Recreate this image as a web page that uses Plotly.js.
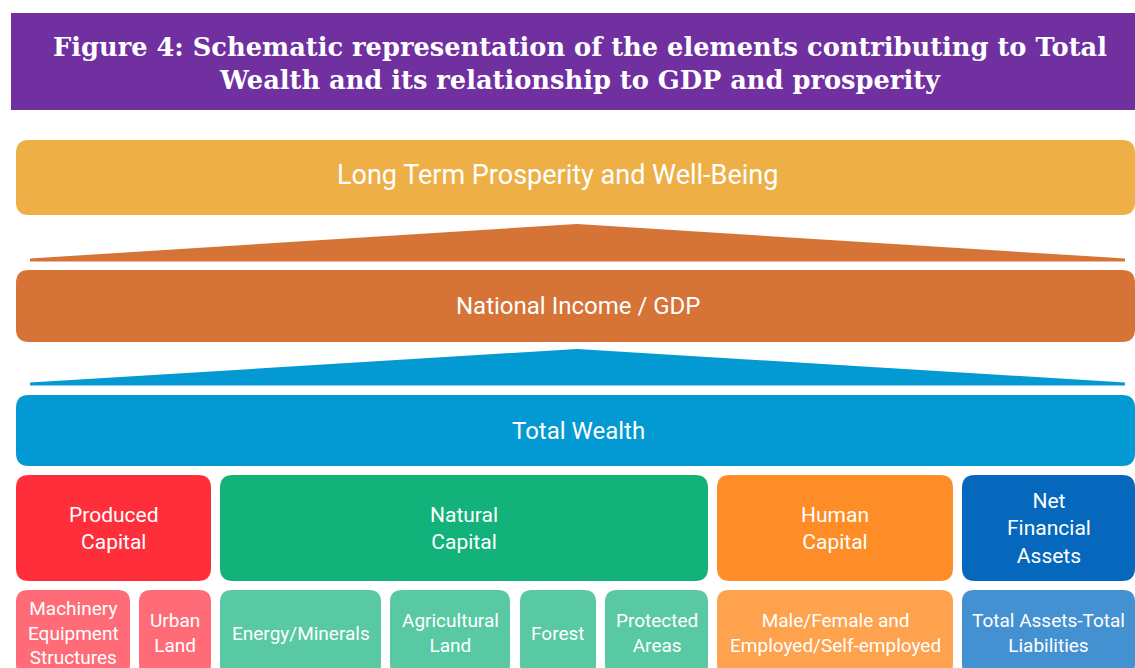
<!DOCTYPE html>
<html>
<head>
<meta charset="utf-8">
<script src="https://cdn.plot.ly/plotly-3.0.1.min.js"></script>
<style>html,body{margin:0;padding:0;background:#fff;}#chart{width:1135px;height:668px;}</style>
</head>
<body>
<div id="chart"></div>
<script>
// ---- content (text) ----
const titleLines = ["Figure 4: Schematic representation of the elements contributing to Total",
                    "Wealth and its relationship to GDP and prosperity"];
const tierLabels = ["Long Term Prosperity and Well-Being", "National Income / GDP", "Total Wealth"];
const capitalLabels = ["Produced<br>Capital", "Natural<br>Capital", "Human<br>Capital", "Net<br>Financial<br>Assets"];
const componentLabels = ["Machinery<br>Equipment<br>Structures", "Urban<br>Land", "Energy/Minerals",
                         "Agricultural<br>Land", "Forest", "Protected<br>Areas",
                         "Male/Female and<br>Employed/Self-employed", "Total Assets-Total<br>Liabilities"];
const componentParent = [0, 0, 1, 1, 1, 1, 2, 3];

// ---- styles ----
const tierColors = ["#EEAF47", "#D67336", "#0399D2"];
const capitalColors = ["#FF2E3B", "#13B27B", "#FF8D27", "#0568BD"];
const componentColors = ["#FF6C77", "#58C9A2", "#FFA24E", "#4491D2"];

// ---- layout geometry (pixels) ----
const W = 1135, H = 668;
const tierBoxes = [[16, 1135, 140, 215], [16, 1135, 270, 342], [16, 1135, 395, 466]];
const tierTextX = [557, 578, 578];
const tierTextY = [174.5, 306, 430.5];
const wedges = [{top: 224, tipTop: 258.5, base: 261.5, color: 1}, {top: 349, tipTop: 382.5, base: 385.5, color: 2}];
const wedgeX = [30, 577, 1125];
const capitalX = [[16, 211], [220, 708], [717, 953], [962, 1135]];
const capitalY = [475, 581];
const componentX = [[16, 130], [139, 211], [220, 381], [390, 510], [520, 596], [605, 708], [717, 953], [962, 1135]];
const componentY = [590, 676];

function rr(x0, x1, y0, y1, r) {
  return `M${x0+r},${y0} L${x1-r},${y0} Q${x1},${y0} ${x1},${y0+r} L${x1},${y1-r} Q${x1},${y1} ${x1-r},${y1} ` +
         `L${x0+r},${y1} Q${x0},${y1} ${x0},${y1-r} L${x0},${y0+r} Q${x0},${y0} ${x0+r},${y0} Z`;
}
function box(path, color) {
  return {type: 'path', xref: 'x', yref: 'y', path: path, fillcolor: color, line: {width: 0}, layer: 'below'};
}
function label(x, y, text, size) {
  return {xref: 'x', yref: 'y', x: x, y: y, text: text, showarrow: false, xanchor: 'center', yanchor: 'middle',
          align: 'center', font: {family: 'Roboto, Arial, sans-serif', size: size, color: '#FFFFFF'}};
}

const shapes = [];
const annotations = [];

// title bar
shapes.push({type: 'rect', xref: 'x', yref: 'y', x0: 11, x1: 1135, y0: 13, y1: 110, fillcolor: '#7030A0', line: {width: 0}, layer: 'below'});

// tiers
tierBoxes.forEach((b, i) => {
  shapes.push(box(rr(b[0], b[1], b[2], b[3], 13), tierColors[i]));
  annotations.push(label(tierTextX[i], tierTextY[i], tierLabels[i], i === 0 ? 27 : 24));
});
// wedges
wedges.forEach(w => {
  const p = `M${wedgeX[0]},${w.tipTop} L${wedgeX[1]},${w.top} L${wedgeX[2]},${w.tipTop} L${wedgeX[2]},${w.base} L${wedgeX[0]},${w.base} Z`;
  shapes.push(box(p, tierColors[w.color]));
});
// capitals
capitalX.forEach((x, i) => {
  shapes.push(box(rr(x[0], x[1], capitalY[0], capitalY[1], 13), capitalColors[i]));
  annotations.push(label((x[0] + x[1]) / 2, (capitalY[0] + capitalY[1]) / 2, capitalLabels[i], 21));
});
// components
componentX.forEach((x, i) => {
  shapes.push(box(rr(x[0], x[1], componentY[0], componentY[1], 12), componentColors[componentParent[i]]));
  annotations.push(label((x[0] + x[1]) / 2, 633, componentLabels[i], 19));
});

const layout = {
  width: W, height: H,
  margin: {l: 0, r: 0, t: 0, b: 0},
  paper_bgcolor: '#FFFFFF', plot_bgcolor: '#FFFFFF',
  showlegend: false,
  title: {text: titleLines.join('<br>'), x: 580 / W, xanchor: 'center', y: 1 - 56 / H, yanchor: 'middle',
          xref: 'paper', yref: 'container',
          font: {family: 'DejaVu Serif, serif', size: 25.7, color: '#FFFFFF', weight: 'bold'}},
  xaxis: {range: [0, W], visible: false, fixedrange: true},
  yaxis: {range: [H, 0], visible: false, fixedrange: true},
  shapes: shapes,
  annotations: annotations
};

Plotly.newPlot('chart', [{type: 'scatter', x: [], y: [], hoverinfo: 'skip', showlegend: false}], layout,
  {displayModeBar: false, staticPlot: true});
</script>
</body>
</html>
